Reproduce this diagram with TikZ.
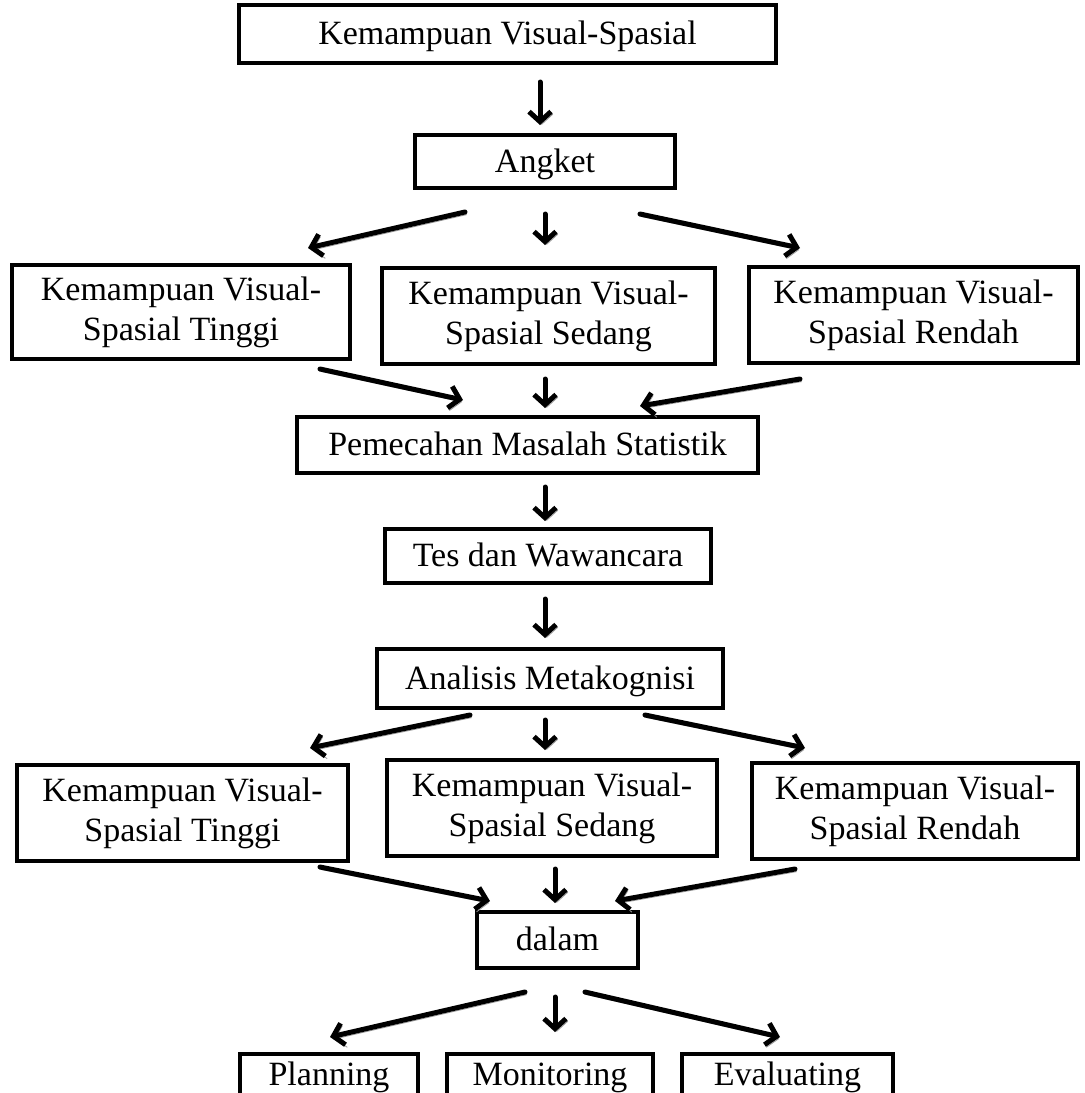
\documentclass[tikz,border=0pt]{standalone}
\usepackage{fontspec}
\setmainfont{Liberation Serif}
\usetikzlibrary{arrows.meta,calc}
\begin{document}
\begin{tikzpicture}[x=0.5pt,y=-0.5pt,
  box/.style={draw=black, line width=2pt, fill=white, align=center, inner sep=0pt,
    font=\fontsize{17}{20}\selectfont},
  one/.style={text height=14pt, text depth=3.5pt},
  arr/.style={line width=2.5pt, line cap=round,
    -{Straight Barb[length=5pt,width=11pt,line width=2.5pt]},
    preaction={draw=black!40, transform canvas={shift={(0.9pt,-1.3pt)}}}}
]
\useasboundingbox (0,0) rectangle (1085,1093);
\clip (0,0) rectangle (1085,1093);
% nodes
\node[box, one, minimum width=268.5pt, minimum height=29pt] (top) at (507.5,34) {Kemampuan Visual-Spasial};
\node[box, one, minimum width=130pt, minimum height=26.5pt] (angket) at (545,161.5) {Angket};
\node[box, minimum width=169pt, minimum height=47pt] (t1) at (181,312) {Kemampuan Visual-\\Spasial Tinggi};
\node[box, minimum width=166.5pt, minimum height=48pt] (s1) at (548.5,316) {Kemampuan Visual-\\Spasial Sedang};
\node[box, minimum width=164.5pt, minimum height=48pt] (r1) at (913.5,315) {Kemampuan Visual-\\Spasial Rendah};
\node[box, one, minimum width=230.5pt, minimum height=28pt] (pem) at (527.5,445) {Pemecahan Masalah Statistik};
\node[box, one, minimum width=163pt, minimum height=27pt] (tes) at (548,556) {Tes dan Wawancara};
\node[box, one, minimum width=173pt, minimum height=29.5pt] (ana) at (550,678.5) {Analisis Metakognisi};
\node[box, minimum width=165.5pt, minimum height=48pt] (t2) at (182.5,813) {Kemampuan Visual-\\Spasial Tinggi};
\node[box, minimum width=165pt, minimum height=48pt] (s2) at (552,808) {Kemampuan Visual-\\Spasial Sedang};
\node[box, minimum width=163pt, minimum height=48pt] (r2) at (915,811) {Kemampuan Visual-\\Spasial Rendah};
\node[box, one, minimum width=80.5pt, minimum height=28pt] (dalam) at (557.5,940) {dalam};
\node[box, one, minimum width=89pt, minimum height=21pt] (plan) at (329,1075) {Planning};
\node[box, one, minimum width=103pt, minimum height=21pt] (mon) at (550,1075) {Monitoring};
\node[box, one, minimum width=105.5pt, minimum height=21pt] (eva) at (787.5,1075) {Evaluating};
% connectors
\draw[arr] ($(top.south)+(32.5,17)$) -- ($(angket.north)+(-5,-8)$);
\draw[arr] ($(angket.south)+(-80,22)$) -- ($(t1.north)+(127,-15)$);
\draw[arr] ($(angket.south)+(0,24)$) -- ($(s1.north)+(-3.5,-21)$);
\draw[arr] ($(angket.south)+(95,24)$) -- ($(r1.north)+(-113.5,-17)$);
\draw[arr] ($(t1.south)+(139,8)$) -- ($(pem.north)+(-64.5,-15)$);
\draw[arr] ($(s1.south)+(-3.5,13)$) -- ($(pem.north)+(17.5,-7)$);
\draw[arr] ($(r1.south)+(-113.5,14)$) -- ($(pem.north)+(112.5,-9)$);
\draw[arr] ($(pem.south)+(17.5,12)$) -- ($(tes.north)+(-3,-6)$);
\draw[arr] ($(tes.south)+(-3,14)$) -- ($(ana.north)+(-5,-9)$);
\draw[arr] ($(ana.south)+(-80,5)$) -- ($(t2.north)+(127.5,-15)$);
\draw[arr] ($(ana.south)+(-5,10)$) -- ($(s2.north)+(-7,-8)$);
\draw[arr] ($(ana.south)+(95,5)$) -- ($(r2.north)+(-110,-13)$);
\draw[arr] ($(t2.south)+(137.5,4)$) -- ($(dalam.north)+(-67.5,-9)$);
\draw[arr] ($(s2.south)+(3,11)$) -- ($(dalam.north)+(-2.5,-7)$);
\draw[arr] ($(r2.south)+(-120,8)$) -- ($(dalam.north)+(57.5,-9)$);
\draw[arr] ($(dalam.south)+(-32.5,22)$) -- ($(plan.north)+(1,-15)$);
\draw[arr] ($(dalam.south)+(-2.5,27)$) -- ($(mon.north)+(5,-20)$);
\draw[arr] ($(dalam.south)+(27.5,22)$) -- ($(eva.north)+(-7.5,-15)$);
\end{tikzpicture}
\end{document}
